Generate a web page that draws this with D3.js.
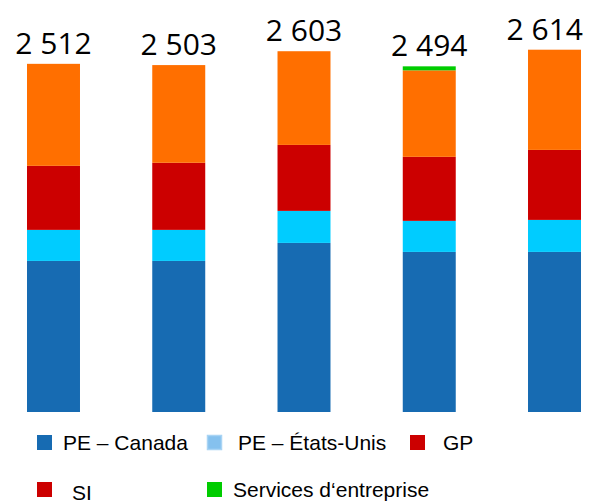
<!DOCTYPE html>
<html>
<head>
<meta charset="utf-8">
<script src="https://cdn.jsdelivr.net/npm/d3@7"></script>
<style>
  html, body { margin: 0; padding: 0; background: #fff; }
  svg { display: block; }
</style>
</head>
<body>
<svg id="chart" width="590" height="501"></svg>
<script>
// Periods (not labelled on the axis)
const periods = ["P1", "P2", "P3", "P4", "P5"];

// Segment values per period
const peCanada   = [1090, 1090, 1220, 1155, 1155];
const peEtatsUnis = [224, 224, 231, 224, 231];
const gp         = [462, 484, 476, 462, 505];
const si         = [736, 705, 676, 624, 723];
const services   = [0, 0, 0, 29, 0];

// Totals shown above the bars
const totals = [2512, 2503, 2603, 2494, 2614];

const seriesKeys = ["peCanada", "peEtatsUnis", "gp", "si", "services"];
const barColors = {
  peCanada: "#176bb2",
  peEtatsUnis: "#00ccff",
  gp: "#cc0000",
  si: "#ff6f00",
  services: "#00cc00"
};

const legendItems = [
  { label: "PE \u2013 Canada", color: "#176bb2", x: 37, y: 435, tx: 63 },
  { label: "PE \u2013 \u00c9tats-Unis", color: "#85c1ee", stroke: "#a9d4f4", x: 207, y: 435, tx: 238 },
  { label: "GP", color: "#cc0000", x: 410, y: 435, tx: 443 },
  { label: "SI", color: "#cc0000", x: 37, y: 482, tx: 72, dy: 3 },
  { label: "Services d\u2018entreprise", color: "#00cc00", x: 207, y: 482, tx: 233 }
];

const rows = periods.map((p, i) => ({
  period: p,
  peCanada: peCanada[i],
  peEtatsUnis: peEtatsUnis[i],
  gp: gp[i],
  si: si[i],
  services: services[i],
  total: totals[i]
}));

const W = 590;
const svg = d3.select("#chart");

const x = d3.scaleBand()
  .domain(periods)
  .range([27, 581])
  .paddingInner(0.577)
  .paddingOuter(0);

const y = d3.scaleLinear()
  .domain([0, 3000])
  .range([412, 412 - 3000 * 0.1386]);

const stack = d3.stack().keys(seriesKeys);
const layers = stack(rows);

svg.append("g")
  .selectAll("g")
  .data(layers)
  .join("g")
  .attr("fill", d => barColors[d.key])
  .selectAll("rect")
  .data(d => d)
  .join("rect")
  .attr("x", d => x(d.data.period))
  .attr("width", x.bandwidth())
  .attr("y", d => y(d[1]))
  .attr("height", d => y(d[0]) - y(d[1]));

const fmt = d3.formatLocale({ decimal: ",", thousands: "\u00a0", grouping: [3], currency: ["", ""] }).format(",d");

// Total labels, centred over each bar but kept inside the right edge
const totalLabels = svg.append("g")
  .selectAll("text")
  .data(rows)
  .join("text")
  .attr("y", d => y(d.total) - 10)
  .attr("text-anchor", "middle")
  .attr("font-family", "'Open Sans', 'DejaVu Sans', sans-serif")
  .attr("font-size", 30)
  .attr("fill", "#000")
  .text(d => fmt(d.total));

totalLabels.each(function (d) {
  const half = this.getComputedTextLength() / 2;
  const cx = x(d.period) + x.bandwidth() / 2;
  d3.select(this).attr("x", Math.min(cx, W - 7 - half));
});

const legend = svg.append("g")
  .selectAll("g")
  .data(legendItems)
  .join("g");

legend.append("rect")
  .attr("x", d => d.x + (d.stroke ? 0.5 : 0))
  .attr("y", d => d.y + (d.stroke ? 0.5 : 0))
  .attr("width", d => d.stroke ? 14 : 15)
  .attr("height", d => d.stroke ? 14 : 15)
  .attr("fill", d => d.color)
  .attr("stroke", d => d.stroke || "none")
  .attr("stroke-width", 1.5);

legend.append("text")
  .attr("x", d => d.tx)
  .attr("y", d => d.y + 15 + (d.dy || 0))
  .attr("font-family", "'Liberation Sans', Arial, sans-serif")
  .attr("font-size", 21)
  .attr("fill", "#000")
  .text(d => d.label);
</script>
</body>
</html>
